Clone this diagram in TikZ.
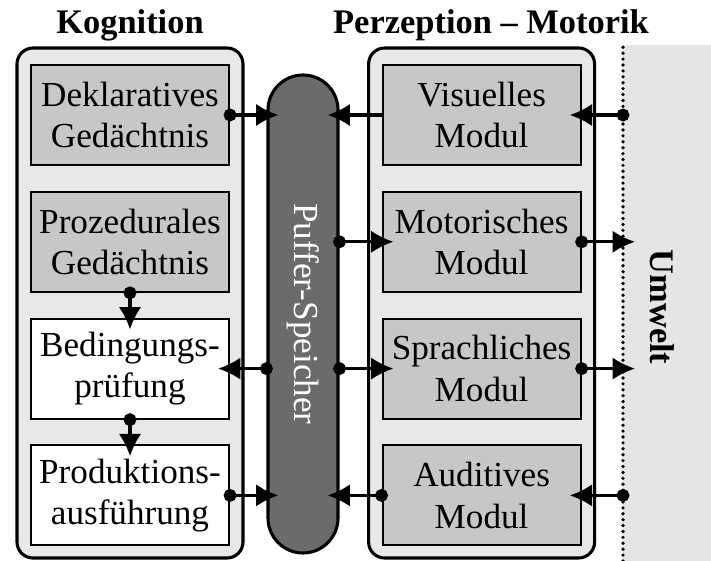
\documentclass[tikz,border=0pt]{standalone}
\usepackage{fontspec}
\setmainfont{Liberation Serif}
\usetikzlibrary{arrows.meta}
\tikzset{
  schrift/.style={font=\fontsize{25}{29.5}\selectfont},
  titel/.style={font=\bfseries\fontsize{24.5}{29}\selectfont},
  rahmen/.style={draw, line width=2.2pt, rounded corners=0.4cm, fill=black!9, minimum width=5.65cm, minimum height=12.75cm},
  modul/.style={draw, line width=1.5pt, fill=black!22, minimum width=4.95cm, minimum height=2.5cm, align=center, inner sep=0pt, schrift},
  regel/.style={modul, fill=white},
  puffer/.style={draw, line width=2.2pt, fill=black!58, rounded corners=0.875cm, minimum width=1.75cm, minimum height=11.95cm},
  pfeil/.style={line width=2.2pt, -{Latex[length=5.6mm,width=5.6mm]}, shorten >=-0.3cm},
  dpfeil/.style={pfeil, {Circle[length=3.2mm]}-{Latex[length=5.6mm,width=5.6mm]}, shorten <=-1.6mm}
}
\begin{document}
\begin{tikzpicture}
  \useasboundingbox (0,0) rectangle (17.775,14.025);
  \fill[black!10] (15.575,0) rectangle (17.775,12.9);
  \draw[line width=2.6pt, line cap=round, dash pattern=on 0pt off 4.2pt] (15.575,0) -- (15.575,12.9);
  \coordinate (uw) at (15.575,0);
  \node[rotate=-90, titel] (umwelt) at (16.55,6.35) {Umwelt};

  \node[rahmen] (kograhmen) at (3.25,6.45) {};
  \node[rahmen] (perrahmen) at (12.04,6.45) {};
  \node[anchor=base, titel] (kog) at (3.25,13.175) {Kognition};
  \node[anchor=base, titel] (per) at (12.275,13.175) {Perzeption -- Motorik};

  \node[puffer] (buf) at (7.575,6.175) {};
  \node[rotate=-90, schrift, text=white] (buftxt) at (buf) {Puffer-Speicher};

  \node[modul] (dekl) at (3.25,11.15) {Deklaratives\\Gedächtnis};
  \node[modul] (proz) at (3.25,7.98) {Prozedurales\\Gedächtnis};
  \node[regel] (bed) at (3.25,4.81) {Bedingungs-\\prüfung};
  \node[regel] (prod) at (3.25,1.64) {Produktions-\\ausführung};

  \foreach \name/\y/\txt in {vis/11.15/Visuelles, mot/7.98/Motorisches, spr/4.81/Sprachliches, aud/1.64/Auditives}{
    \node[modul] (\name) at (12.04,\y) {\txt\\Modul};
  }

  \draw[dpfeil] (dekl.east) -- (dekl.east -| buf.west);
  \draw[pfeil] (vis.west) -- (vis.west -| buf.east);
  \draw[dpfeil] (vis.east -| uw) -- (vis.east);
  \draw[dpfeil] (mot.west -| buf.east) -- (mot.west);
  \draw[dpfeil] (mot.east) -- (mot.east -| uw);
  \draw[dpfeil] (proz.south) -- (bed.north);
  \draw[dpfeil] (bed.east -| buf.west) -- (bed.east);
  \draw[dpfeil] (spr.west -| buf.east) -- (spr.west);
  \draw[dpfeil] (spr.east) -- (spr.east -| uw);
  \draw[dpfeil] (bed.south) -- (prod.north);
  \draw[dpfeil] (prod.east) -- (prod.east -| buf.west);
  \draw[dpfeil] (aud.west) -- (aud.west -| buf.east);
  \draw[dpfeil] (aud.east -| uw) -- (aud.east);
\end{tikzpicture}
\end{document}
